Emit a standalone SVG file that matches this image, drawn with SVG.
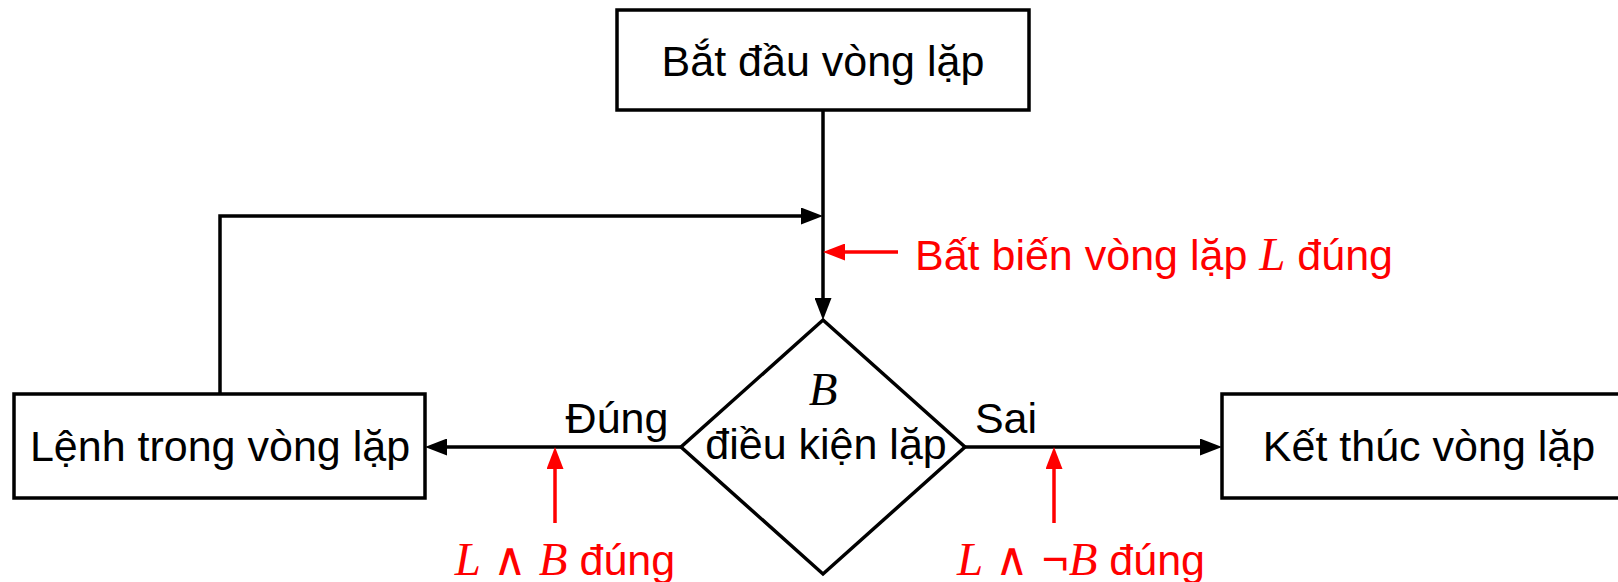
<svg xmlns="http://www.w3.org/2000/svg" width="1618" height="582" viewBox="0 0 1618 582">
<style>
.box{fill:#fff;stroke:#000;stroke-width:3.5}
.ln{fill:none;stroke:#000;stroke-width:3.5}
.rl{fill:none;stroke:#f00;stroke-width:3.5}
.t{font-family:"Liberation Sans",Arial,sans-serif;font-size:43px;fill:#000;text-anchor:middle}
.r{fill:#f00}
.m{font-family:"Liberation Serif","Times New Roman",serif;font-style:italic;font-size:47px}
.o{font-size:46px}
</style>
<defs>
<marker id="ab" markerUnits="userSpaceOnUse" viewBox="0 0 22 17" markerWidth="22" markerHeight="17" refX="13" refY="8.5" orient="auto"><path d="M0,0 L22,8.5 L0,17 z" fill="#000"/></marker>
<marker id="ar" markerUnits="userSpaceOnUse" viewBox="0 0 22 17" markerWidth="22" markerHeight="17" refX="13" refY="8.5" orient="auto"><path d="M0,0 L22,8.5 L0,17 z" fill="#f00"/></marker>
</defs>
<g id="connectors">
<path class="ln" d="M823,110 V311" marker-end="url(#ab)"/>
<path class="ln" d="M220,394 V216 H814" marker-end="url(#ab)"/>
<path class="ln" d="M681,447 H434" marker-end="url(#ab)"/>
<path class="ln" d="M965,447 H1213" marker-end="url(#ab)"/>
<text class="t" x="617" y="433">Đúng</text>
<text class="t" x="1006" y="433">Sai</text>
</g>
<g id="annotations">
<path class="rl" d="M898,252 H832" marker-end="url(#ar)"/>
<path class="rl" d="M555,523 V456" marker-end="url(#ar)"/>
<path class="rl" d="M1054,523 V456" marker-end="url(#ar)"/>
<text class="t r" x="915" y="270" style="text-anchor:start">Bất biến vòng lặp <tspan class="m">L</tspan> đúng</text>
<text class="t r" x="565" y="575"><tspan class="m">L</tspan> <tspan class="o">∧</tspan> <tspan class="m">B</tspan> đúng</text>
<text class="t r" x="1081" y="575"><tspan class="m">L</tspan> <tspan class="o">∧ ¬</tspan><tspan class="m">B</tspan> đúng</text>
</g>
<g id="start">
<rect class="box" x="617" y="10" width="412" height="100"/>
<text class="t" x="823" y="76">Bắt đầu vòng lặp</text>
</g>
<g id="condition">
<path class="box" d="M823,320 L965,447 L823,574 L681,447 z"/>
<text class="t m" x="823" y="405">B</text>
<text class="t" x="826" y="459">điều kiện lặp</text>
</g>
<g id="body">
<rect class="box" x="14" y="394" width="411" height="104"/>
<text class="t" x="220" y="461">Lệnh trong vòng lặp</text>
</g>
<g id="end">
<rect class="box" x="1222" y="394" width="410" height="104"/>
<text class="t" x="1429" y="461">Kết thúc vòng lặp</text>
</g>
</svg>
